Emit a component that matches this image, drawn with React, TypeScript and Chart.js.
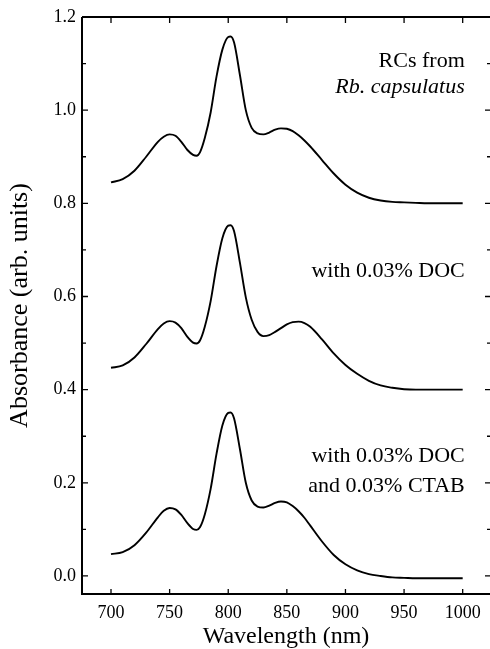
import React, { useEffect, useRef } from "react";
import { Chart, registerables } from "chart.js";

Chart.register(...registerables);

// Wavelengths (nm) shared by the three spectra
const wavelengths = [
  700, 710, 720, 730, 740, 745, 750, 755, 760, 765, 770, 773, 776, 780, 785, 790, 795, 800, 802, 805,
  810, 815, 820, 825, 830, 835, 840, 845, 850, 855, 860, 865, 870, 880, 890, 900, 910, 920, 930, 940,
  950, 960, 970, 980, 990, 1000,
];

// RCs from Rb. capsulatus (offset spectrum, top)
const absNative = [
  0.845, 0.852, 0.870, 0.900, 0.932, 0.943, 0.948, 0.945, 0.932, 0.915, 0.904, 0.902, 0.910, 0.940, 0.995, 1.072, 1.130, 1.157, 1.158, 1.145,
  1.075, 1.000, 0.962, 0.950, 0.948, 0.952, 0.958, 0.961, 0.960, 0.955, 0.946, 0.935, 0.922, 0.893, 0.864, 0.840, 0.823, 0.812, 0.806, 0.803,
  0.802, 0.801, 0.800, 0.800, 0.800, 0.800,
];

// with 0.03% DOC (middle)
const absDOC = [
  0.447, 0.452, 0.469, 0.498, 0.530, 0.542, 0.547, 0.544, 0.532, 0.514, 0.501, 0.499, 0.506, 0.535, 0.590, 0.665, 0.725, 0.752, 0.753, 0.740,
  0.672, 0.598, 0.550, 0.524, 0.515, 0.517, 0.524, 0.532, 0.540, 0.545, 0.546, 0.543, 0.535, 0.508, 0.478, 0.453, 0.434, 0.419, 0.409, 0.404,
  0.401, 0.400, 0.400, 0.400, 0.400, 0.400,
];

// with 0.03% DOC and 0.03% CTAB (bottom)
const absDOCCTAB = [
  0.047, 0.051, 0.066, 0.093, 0.126, 0.140, 0.146, 0.143, 0.131, 0.114, 0.101, 0.099, 0.105, 0.132, 0.187, 0.262, 0.323, 0.350, 0.351, 0.338,
  0.272, 0.200, 0.162, 0.149, 0.147, 0.151, 0.157, 0.160, 0.158, 0.150, 0.139, 0.125, 0.108, 0.074, 0.045, 0.025, 0.012, 0.004, 0.000, -0.003,
  -0.004, -0.005, -0.005, -0.005, -0.005, -0.005,
];

const xTicks = [700, 750, 800, 850, 900, 950, 1000];
const yTicks = [0.0, 0.2, 0.4, 0.6, 0.8, 1.0, 1.2];
const yMinorTicks = [0.1, 0.3, 0.5, 0.7, 0.9, 1.1];

const annotationText = ["RCs from", "Rb. capsulatus", "with 0.03% DOC", "with 0.03% DOC", "and 0.03% CTAB"];
const annotationItalic = [false, true, false, false, false];
const annotationY = [1.0925, 1.037, 0.641, 0.244, 0.181];
const annotationX = 1001.8;

const SERIF = '"Liberation Serif", "Times New Roman", serif';

const framePlugin = {
  id: "frame",
  afterDraw(chart: any) {
    const { ctx, chartArea, scales } = chart;
    const { left, right, top, bottom } = chartArea;
    const x = scales.x;
    const y = scales.y;
    ctx.save();
    ctx.strokeStyle = "#000";
    ctx.lineWidth = 2;
    ctx.beginPath();
    ctx.moveTo(left, top);
    ctx.lineTo(right, top);
    ctx.moveTo(left, top);
    ctx.lineTo(left, bottom);
    ctx.lineTo(right, bottom);
    ctx.stroke();

    ctx.lineWidth = 1.3;
    ctx.beginPath();
    for (const v of xTicks) {
      const px = x.getPixelForValue(v);
      ctx.moveTo(px, top);
      ctx.lineTo(px, top + 6);
      ctx.moveTo(px, bottom);
      ctx.lineTo(px, bottom - 5);
    }
    for (const v of yTicks) {
      const py = y.getPixelForValue(v);
      ctx.moveTo(left, py);
      ctx.lineTo(left + 6, py);
      ctx.moveTo(right, py);
      ctx.lineTo(right - 5, py);
    }
    for (const v of yMinorTicks) {
      const py = y.getPixelForValue(v);
      ctx.moveTo(left, py);
      ctx.lineTo(left + 4, py);
      ctx.moveTo(right, py);
      ctx.lineTo(right - 3, py);
    }
    ctx.stroke();

    ctx.fillStyle = "#000";
    ctx.textAlign = "right";
    ctx.textBaseline = "alphabetic";
    annotationText.forEach((t, i) => {
      ctx.font = (annotationItalic[i] ? "italic " : "") + "22px " + SERIF;
      ctx.fillText(t, x.getPixelForValue(annotationX), y.getPixelForValue(annotationY[i]));
    });
    ctx.restore();
  },
};

export default function App() {
  const ref = useRef<HTMLCanvasElement | null>(null);

  useEffect(() => {
    if (!ref.current) return;
    const mk = (vals: number[]) => wavelengths.map((w, i) => ({ x: w, y: vals[i] }));
    const ds = (vals: number[], label: string) => ({
      label,
      data: mk(vals),
      borderColor: "#000",
      borderWidth: 1.9,
      pointRadius: 0,
      fill: false,
      cubicInterpolationMode: "monotone" as const,
    });
    const chart = new Chart(ref.current, {
      type: "line",
      data: {
        datasets: [
          ds(absNative, "RCs from Rb. capsulatus"),
          ds(absDOC, "with 0.03% DOC"),
          ds(absDOCCTAB, "with 0.03% DOC and 0.03% CTAB"),
        ],
      },
      options: {
        animation: false,
        responsive: false,
        maintainAspectRatio: false,
        layout: { padding: { top: 17, right: 0, left: 0, bottom: 0 } },
        plugins: { legend: { display: false }, tooltip: { enabled: false } },
        scales: {
          x: {
            type: "linear",
            min: 675.26,
            max: 1023.3,
            afterBuildTicks: (s: any) => {
              s.ticks = xTicks.map((v) => ({ value: v }));
            },
            afterFit: (s: any) => {
              s.height = 55;
            },
            grid: { display: false, drawTicks: false },
            border: { display: false },
            ticks: {
              color: "#000",
              font: { family: SERIF, size: 18 },
              padding: 8,
              maxRotation: 0,
              callback: (v: any) => String(v),
            },
            title: {
              display: true,
              text: "Wavelength (nm)",
              color: "#000",
              font: { family: SERIF, size: 24, lineHeight: 1 },
              padding: { top: 0, bottom: 0 },
            },
          },
          y: {
            type: "linear",
            min: -0.0387,
            max: 1.2,
            afterBuildTicks: (s: any) => {
              s.ticks = yTicks.map((v) => ({ value: v }));
            },
            afterFit: (s: any) => {
              s.width = 82;
            },
            grid: { display: false, drawTicks: false },
            border: { display: false },
            ticks: {
              color: "#000",
              font: { family: SERIF, size: 18 },
              padding: 6,
              callback: (v: any) => Number(v).toFixed(1),
            },
            title: {
              display: true,
              text: "Absorbance (arb. units)",
              color: "#000",
              font: { family: SERIF, size: 26, lineHeight: 1 },
              padding: { top: 7, bottom: 0 },
            },
          },
        },
      },
      plugins: [framePlugin],
    });
    return () => chart.destroy();
  }, []);

  return (
    <div style={{ position: "fixed", left: 0, top: 0, width: 490, height: 649, background: "#fff" }}>
      <canvas ref={ref} width={490} height={649} style={{ display: "block" }} />
    </div>
  );
}
